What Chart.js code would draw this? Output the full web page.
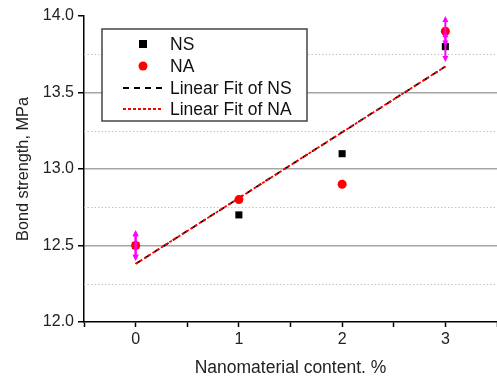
<!DOCTYPE html>
<html>
<head>
<meta charset="utf-8">
<script src="https://cdn.jsdelivr.net/npm/chart.js@4/dist/chart.umd.min.js"></script>
<style>
  html, body { margin: 0; padding: 0; background: #fff; }
  #chart { display: block; }
</style>
</head>
<body>
<canvas id="chart" width="497" height="381"></canvas>
<script>
// ---- data ----
const content = [0, 1, 2, 3];
const nsValues = [12.5, 12.7, 13.1, 13.8];
const naValues = [12.5, 12.8, 12.9, 13.9];
const nsErr = [0.1, 0, 0, 0.1];
const naErr = [0.1, 0, 0, 0.1];
const fitX = [0, 3];
const fitNS = [12.38, 13.67];
const fitNA = [12.38, 13.67];
const xTickLabels = ['0', '1', '2', '3'];
const minorY = [12.25, 12.75, 13.25, 13.75];

const FONT = 'Arial, "Liberation Sans", sans-serif';

function pts(xs, ys) {
  return xs.map(function (x, i) { return { x: x, y: ys[i] }; });
}

// dotted minor grid lines
const minorGrid = {
  id: 'minorGrid',
  beforeDatasetsDraw(chart) {
    const ctx = chart.ctx, y = chart.scales.y, a = chart.chartArea;
    ctx.save();
    ctx.strokeStyle = '#c4c4c4';
    ctx.lineWidth = 1;
    ctx.setLineDash([1.5, 2]);
    minorY.forEach(function (v) {
      const py = Math.round(y.getPixelForValue(v)) + 0.5;
      ctx.beginPath();
      ctx.moveTo(a.left, py);
      ctx.lineTo(a.right, py);
      ctx.stroke();
    });
    ctx.restore();
  }
};

// magenta error bars with arrow heads
const errorBars = {
  id: 'errorBars',
  afterDatasetsDraw(chart) {
    const ctx = chart.ctx, xs = chart.scales.x, ys = chart.scales.y;
    ctx.save();
    ctx.strokeStyle = '#ff00ff';
    ctx.fillStyle = '#ff00ff';
    ctx.lineWidth = 2;
    [[nsValues, nsErr], [naValues, naErr]].forEach(function (s) {
      content.forEach(function (c, i) {
        if (!s[1][i]) return;
        const px = xs.getPixelForValue(c);
        const top = ys.getPixelForValue(s[0][i] + s[1][i]);
        const bot = ys.getPixelForValue(s[0][i] - s[1][i]);
        ctx.beginPath();
        ctx.moveTo(px, top + 3);
        ctx.lineTo(px, bot - 3);
        ctx.stroke();
        ctx.beginPath();
        ctx.moveTo(px, top); ctx.lineTo(px - 3, top + 6); ctx.lineTo(px + 3, top + 6);
        ctx.closePath(); ctx.fill();
        ctx.beginPath();
        ctx.moveTo(px, bot); ctx.lineTo(px - 3, bot - 6); ctx.lineTo(px + 3, bot - 6);
        ctx.closePath(); ctx.fill();
      });
    });
    ctx.restore();
  }
};

// boxed legend inside the plot
const boxLegend = {
  id: 'boxLegend',
  afterDraw(chart) {
    const ctx = chart.ctx;
    const bx = 102, by = 29, bw = 205, bh = 92;
    const symX = 143, txtX = 170;
    const rows = [44, 66, 88, 109];
    ctx.save();
    ctx.fillStyle = '#fff';
    ctx.fillRect(bx, by, bw, bh);
    ctx.strokeStyle = '#444';
    ctx.lineWidth = 1.5;
    ctx.strokeRect(bx, by, bw, bh);

    ctx.fillStyle = '#000';
    ctx.fillRect(symX - 4, rows[0] - 4, 8, 8);
    ctx.fillStyle = '#ff0000';
    ctx.beginPath(); ctx.arc(symX, rows[1], 4.5, 0, Math.PI * 2); ctx.fill();

    ctx.lineWidth = 1.8;
    ctx.strokeStyle = '#000';
    ctx.setLineDash([6, 5]);
    ctx.beginPath(); ctx.moveTo(123, rows[2]); ctx.lineTo(163, rows[2]); ctx.stroke();
    ctx.strokeStyle = '#ff0000';
    ctx.setLineDash([3, 2]);
    ctx.beginPath(); ctx.moveTo(123, rows[3]); ctx.lineTo(163, rows[3]); ctx.stroke();
    ctx.setLineDash([]);

    ctx.fillStyle = '#111';
    ctx.font = '17.5px ' + FONT;
    ctx.textBaseline = 'middle';
    ['NS', 'NA', 'Linear Fit of NS', 'Linear Fit of NA'].forEach(function (t, i) {
      ctx.fillText(t, txtX, rows[i] + 1);
    });
    ctx.restore();
  }
};

new Chart(document.getElementById('chart'), {
  type: 'scatter',
  data: {
    datasets: [
      {
        label: 'NA',
        data: pts(content, naValues),
        pointStyle: 'circle',
        pointRadius: 4.5,
        backgroundColor: '#ff0000',
        borderWidth: 0,
        order: 1
      },
      {
        label: 'NS',
        data: pts(content, nsValues),
        pointStyle: 'rect',
        pointRadius: 5,
        backgroundColor: '#000',
        borderWidth: 0,
        order: 2
      },
      {
        label: 'Linear Fit of NA',
        data: pts(fitX, fitNA),
        showLine: true,
        pointRadius: 0,
        borderColor: '#ff0000',
        borderWidth: 1.8,
        borderDash: [3, 2],
        order: 3
      },
      {
        label: 'Linear Fit of NS',
        data: pts(fitX, fitNS),
        showLine: true,
        pointRadius: 0,
        borderColor: '#000',
        borderWidth: 1.8,
        borderDash: [6, 5],
        order: 4
      }
    ]
  },
  options: {
    responsive: false,
    animation: false,
    layout: { autoPadding: false, padding: { top: 16, right: 0, left: 0, bottom: 0 } },
    plugins: { legend: { display: false }, tooltip: { enabled: false } },
    scales: {
      x: {
        type: 'linear',
        min: -0.5,
        max: 3.5,
        afterBuildTicks(scale) {
          const t = [];
          for (let v = -0.5; v <= 3.5; v += 0.5) t.push({ value: v });
          scale.ticks = t;
        },
        afterFit(scale) {
          scale.height = 59;
          scale.paddingLeft = 0;
          scale.paddingRight = 0;
        },
        ticks: {
          autoSkip: false,
          maxRotation: 0,
          padding: 3,
          color: '#222',
          font: { family: FONT, size: 16 },
          callback(v) {
            const i = content.indexOf(v);
            return i >= 0 ? xTickLabels[i] : '';
          }
        },
        grid: { drawOnChartArea: false, drawTicks: true, tickLength: 5, tickColor: '#000', tickWidth: 1.5 },
        border: { color: '#000', width: 1.5 },
        title: {
          display: true,
          text: 'Nanomaterial content. %',
          color: '#222',
          font: { family: FONT, size: 17.5 },
          padding: { top: 0, bottom: 2 }
        }
      },
      y: {
        min: 12,
        max: 14,
        afterFit(scale) {
          scale.width = 84;
          scale.paddingTop = 0;
          scale.paddingBottom = 0;
        },
        ticks: {
          stepSize: 0.5,
          padding: 4,
          color: '#222',
          font: { family: FONT, size: 16 },
          callback(v) { return v.toFixed(1); }
        },
        grid: {
          tickLength: 6,
          tickColor: '#000',
          tickWidth: 1.5,
          lineWidth: 1.5,
          color(c) {
            const v = c.tick && c.tick.value;
            return (v === 12 || v === 14) ? 'rgba(0,0,0,0)' : '#a6a6a6';
          }
        },
        border: { color: '#000', width: 1.5 },
        title: {
          display: true,
          text: 'Bond strength, MPa',
          color: '#222',
          font: { family: FONT, size: 16.3 },
          padding: { top: 14, bottom: 0 }
        }
      }
    }
  },
  plugins: [minorGrid, errorBars, boxLegend]
});
</script>
</body>
</html>
